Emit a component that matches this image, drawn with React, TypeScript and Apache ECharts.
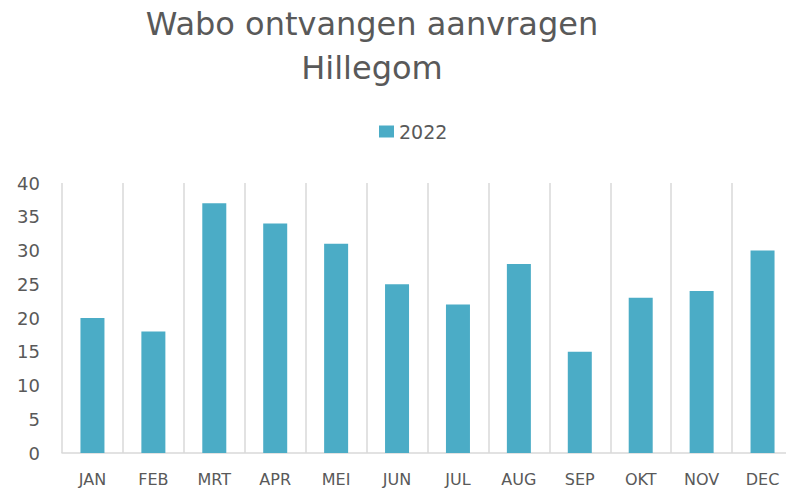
import React, { useEffect, useRef } from "react";
import * as echarts from "echarts";

const categories = ["JAN", "FEB", "MRT", "APR", "MEI", "JUN", "JUL", "AUG", "SEP", "OKT", "NOV", "DEC"];
const values2022 = [20, 18, 37, 34, 31, 25, 22, 28, 15, 23, 24, 30];
const seriesName = "2022";
const titleText = "Wabo ontvangen aanvragen\nHillegom";

export default function App() {
  const ref = useRef<HTMLDivElement>(null);
  useEffect(() => {
    if (!ref.current) return;
    const chart = echarts.init(ref.current, undefined, { renderer: "svg" });
    const font = "DejaVu Sans";
    const grey = "#595959";
    chart.setOption({
      animation: false,
      backgroundColor: "#ffffff",
      title: {
        text: titleText,
        left: 372,
        top: 2,
        padding: 0,
        textAlign: "center",
        textStyle: {
          fontFamily: font,
          fontSize: 32,
          fontWeight: "normal",
          color: grey,
          lineHeight: 44,
        },
      },
      legend: {
        data: [seriesName],
        left: 379,
        top: 122,
        padding: 0,
        itemWidth: 15,
        itemHeight: 12,
        icon: "rect",
        textStyle: { fontFamily: font, fontSize: 19, color: grey },
      },
      grid: { left: 62, right: 0, top: 183, bottom: 36, containLabel: false },
      xAxis: {
        type: "category",
        data: categories,
        boundaryGap: true,
        axisLine: { show: true, lineStyle: { color: "#d9d9d9", width: 1.5 } },
        axisTick: { show: false },
        splitLine: { show: true, lineStyle: { color: "#d9d9d9", width: 1.5 } },
        axisLabel: { fontFamily: font, fontSize: 16, color: grey, margin: 18 },
      },
      yAxis: {
        type: "value",
        min: 0,
        max: 40,
        interval: 5,
        axisLine: { show: false },
        axisTick: { show: false },
        splitLine: { show: false },
        axisLabel: { fontFamily: font, fontSize: 18, color: grey, margin: 22 },
      },
      series: [
        {
          name: seriesName,
          type: "bar",
          data: values2022,
          barWidth: 24,
          itemStyle: { color: "#4BACC6" },
        },
      ],
    });
    return () => chart.dispose();
  }, []);
  return (
    <div
      style={{ position: "fixed", left: 0, top: 0, width: 786, height: 489, overflow: "hidden", background: "#fff" }}
    >
      <div ref={ref} style={{ width: 793, height: 489 }} />
    </div>
  );
}
